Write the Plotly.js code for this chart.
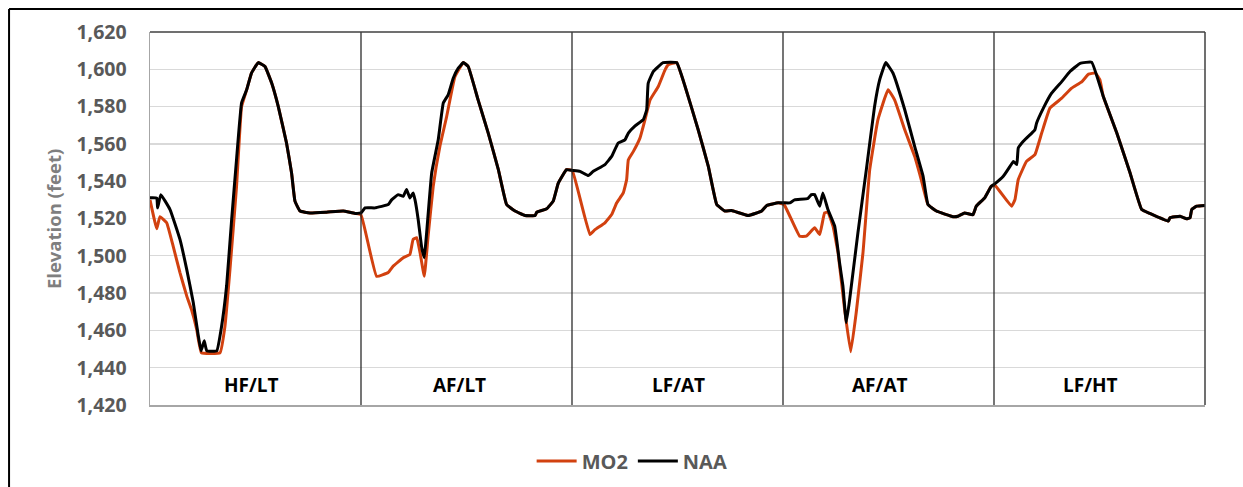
<!DOCTYPE html>
<html>
<head>
<meta charset="utf-8">
<script src="https://cdn.plot.ly/plotly-3.0.1.min.js"></script>
<style>html,body{margin:0;padding:0;background:#fff;}#chart{width:1243px;height:487px;}</style>
</head>
<body>
<div id="chart"></div>
<script>
// Distance along the profile (0-500, 100 per scenario panel) and elevation (feet)
const panelLabels = ["HF/LT", "AF/LT", "LF/AT", "AF/AT", "LF/HT"];
const panelLabelX = [48.2, 146.9, 250.4, 345.8, 445.5];
const panelBounds = [100, 200, 300, 400];

const mo2X = [0,3.2,4.7,7.9,11.0,14.2,17.4,19.7,22.1,24.4,33.2,35.5,37.9,41.0,43.4,45.8,
  48.1,51.3,54.5,57.7,60.8,64.7,67.1,68.7,71.1,75.8,83.7,91.6,97.2,100,
  107.4,112.9,115.3,120.0,123.2,124.7,126.4,128.0,130.0,131.8,134.2,137.4,140.6,144.5,148.5,150.8,155.5,160.3,165.1,169.0,173.0,177.7,182.5,183.3,188.0,191.1,193.5,197.4,200.1,
  208.5,210.9,215.6,218.8,221.2,224.3,225.9,226.7,229.1,232.2,234.6,237.0,240.9,244.1,245.6,249.6,253.6,259.8,264.6,268.6,272.5,275.6,283.5,289.9,292.3,297.8,300.5,
  307.9,311.0,315.0,317.4,319.7,321.3,323.7,326.1,329.2,332.1,334.7,337.9,341.1,345.0,349.8,352.9,357.7,362.4,365.5,368.7,372.7,380.6,382.9,386.1,390.0,391.6,395.6,398.7,400.5,
  408.3,409.9,411.5,415.4,419.4,422.6,426.5,432.1,436.8,441.7,444.8,448.1,450.2,451.8,458.2,464.5,470.0,473.9,482.6,483.4,488.2,491.3,492.9,493.7,496.0,500];
const mo2Y = [1530,1514.5,1521,1517.7,1505,1491,1478.5,1471,1460.7,1448,1448,1462,1492.7,1537,1580,1589,
  1598,1603.6,1601.5,1592.5,1580,1560.5,1544.4,1529.3,1524,1523,1523.4,1524,1522.7,1522,
  1489,1491,1494.5,1499,1500.8,1508.8,1509.7,1501.6,1489,1510.5,1537,1558.7,1574.7,1596,1603.6,1601.5,1583.6,1565.8,1546.2,1527.5,1524,1521.6,1521.6,1523.4,1525.2,1529.3,1539,1546.2,1545.8,
  1511.4,1514,1517.7,1522.1,1528.4,1533.7,1540.9,1551.5,1556,1563.1,1573,1583.6,1590.8,1599.7,1602.4,1603.6,1590.8,1567.6,1548,1527.5,1524,1524.3,1521.6,1524,1527,1528.4,1527.5,
  1510.5,1510.5,1515,1511.4,1523,1523.4,1515.9,1501.6,1471.3,1448.5,1469.6,1501.6,1546.2,1573,1589,1583.6,1567.6,1553.3,1540.9,1527.5,1524,1521,1521.2,1523,1522,1526.6,1531.1,1537.3,1537.7,
  1526.6,1530,1540.9,1550.6,1554.2,1565.8,1579.2,1584.5,1589.9,1593.4,1597.4,1598,1594.3,1585.4,1565.8,1544.4,1524.8,1522.7,1518.6,1520.4,1521.2,1519.8,1520.4,1524.8,1526.6,1527];

const naaX = [0,3.2,3.6,5.1,9.5,14.2,17.4,20.5,22.9,24.2,25.7,26.9,31.6,33.9,36.3,38.7,41.0,43.4,45.8,48.1,51.3,54.5,57.7,60.8,64.7,67.1,68.7,71.1,75.8,83.7,91.6,97.2,100,
  101.9,106.6,112.9,114.5,117.6,120.0,121.6,123.2,124.7,125.6,127.1,128.7,130.0,131.1,133.5,136.6,139.0,141.3,143.7,146.1,148.5,150.8,155.5,160.3,165.1,169.0,173.0,177.7,182.5,183.3,188.0,191.1,193.5,197.4,200.1,
  203.8,207.7,210.1,215.6,218.8,221.9,225.1,226.7,229.9,233.8,235.4,236.1,238.5,243.2,249.6,253.6,259.8,264.6,268.6,272.5,275.6,283.5,289.9,292.3,297.8,300.5,
  303.2,305.5,311.8,313.4,315.0,317.4,318.9,321.3,324.5,326.8,328.4,330.0,331.6,335.5,339.5,343.4,345.8,348.7,352.1,357.7,362.4,366.4,368.7,372.7,380.6,382.9,386.1,390.0,391.6,395.6,398.7,400.5,
  404.4,407.6,409.2,410.8,411.5,413.9,417.9,419.4,420.2,423.4,427.3,432.1,436.0,440.8,446.3,451.8,458.2,464.5,470.0,473.9,482.6,483.4,488.2,491.3,492.9,493.7,496.0,500];
const naaY = [1531.1,1531,1525.7,1532.8,1524.8,1508.8,1492.7,1475,1457,1449,1454.4,1449,1449,1462,1483.8,1519.5,1551.5,1582,1589,1598,1603.6,1601.5,1592.5,1580,1560.5,1544.4,1529.3,1524,1523,1523.4,1524,1522.7,1523,
  1525.7,1525.7,1527.5,1530,1532.8,1531.9,1535.5,1531,1533.7,1530,1519.5,1505,1499,1512.3,1544.4,1562.2,1581.9,1586.3,1595.2,1600.6,1603.6,1601.5,1583.6,1565.8,1546.2,1527.5,1524,1521.6,1521.6,1523.4,1525.2,1529.3,1539,1546.2,1545.8,
  1545.3,1543,1545.3,1548.9,1553.3,1560.5,1562.2,1565.8,1569.7,1573,1578.3,1592.5,1598.8,1603.6,1603.6,1590.8,1567.6,1548,1527.5,1524,1524.3,1521.6,1524,1527,1528.4,1528.4,
  1528.4,1530,1530.7,1532.8,1532.8,1526.6,1533.7,1524.8,1515.9,1496.3,1483.8,1464.2,1476.7,1512.3,1546.2,1580.1,1594.3,1603.6,1598,1578.3,1558.7,1542.6,1527.5,1524,1521,1521.2,1523,1522,1526.6,1531.1,1537.3,1538.7,
  1542.6,1548,1550.6,1548.9,1557.8,1561.4,1565.8,1567.6,1571.2,1579.2,1587.2,1593.4,1598.8,1603.2,1603.8,1585.4,1565.8,1544.4,1524.8,1522.7,1518.6,1520.4,1521.2,1519.8,1520.4,1524.8,1526.6,1527];

const FONT = "'Open Sans', 'Liberation Sans', Arial, sans-serif";
const traces = [
  {x: mo2X, y: mo2Y, name: "MO2", type: "scatter", mode: "lines",
   line: {color: "#D2410F", width: 3, shape: "spline", smoothing: 0.3}},
  {x: naaX, y: naaY, name: "NAA", type: "scatter", mode: "lines",
   line: {color: "#000000", width: 3, shape: "spline", smoothing: 0.3}}
];

const shapes = [];
panelBounds.forEach(b => shapes.push({type: "line", xref: "x", yref: "paper", x0: b, x1: b, y0: 0, y1: 1,
  line: {color: "#1a1a1a", width: 1.2}, layer: "above"}));
// plot frame top and right
shapes.push({type: "line", xref: "paper", yref: "paper", x0: 0, x1: 1, y0: 1, y1: 1, line: {color: "#404040", width: 1.5}});
shapes.push({type: "line", xref: "paper", yref: "paper", x0: 1, x1: 1, y0: 0, y1: 1, line: {color: "#404040", width: 1.5}});
// outer chart border (left and top)
shapes.push({type: "line", xref: "paper", yref: "paper", x0: -0.1336, x1: 1.05, y0: 1.0617, y1: 1.0617, line: {color: "#000", width: 2}});
shapes.push({type: "line", xref: "paper", yref: "paper", x0: -0.1336, x1: -0.1336, y0: -0.25, y1: 1.0617, line: {color: "#000", width: 2}});

const annotations = panelLabels.map((t, i) => ({
  x: panelLabelX[i], y: 1430.5, xref: "x", yref: "y", text: t, showarrow: false,
  font: {family: FONT, size: 19, color: "#000", weight: "bold"}
}));
annotations.push({
  xref: "paper", yref: "paper", x: 0, y: 0.497, xshift: -111, text: "Elevation (feet)",
  textangle: -90, showarrow: false, font: {family: FONT, size: 18.5, color: "#7F7F7F", weight: "bold"}
});

const layout = {
  width: 1243, height: 487,
  margin: {l: 150, r: 38, t: 32, b: 82, autoexpand: false},
  paper_bgcolor: "#fff", plot_bgcolor: "#fff",
  showlegend: true,
  legend: {orientation: "h", x: 0.457, xanchor: "center", y: -0.15, yanchor: "middle",
    font: {family: FONT, size: 20, color: "#595959", weight: "bold"}, itemwidth: 40},
  xaxis: {range: [0, 500], showticklabels: false, showgrid: false, zeroline: false,
    showline: true, linecolor: "#A6A6A6", linewidth: 1.5, ticks: ""},
  yaxis: {range: [1420, 1620], dtick: 20, tick0: 1420, tickformat: ",d",
    showgrid: true, gridcolor: "#D9D9D9", gridwidth: 1.3, zeroline: false,
    showline: true, linecolor: "#A6A6A6", linewidth: 1.5,
    ticks: "outside", ticklen: 18, tickcolor: "rgba(0,0,0,0)",
    tickfont: {family: FONT, size: 19.5, color: "#595959", weight: "bold"}},
  shapes: shapes,
  annotations: annotations
};

Plotly.newPlot("chart", traces, layout, {displayModeBar: false, staticPlot: true});
</script>
</body>
</html>
